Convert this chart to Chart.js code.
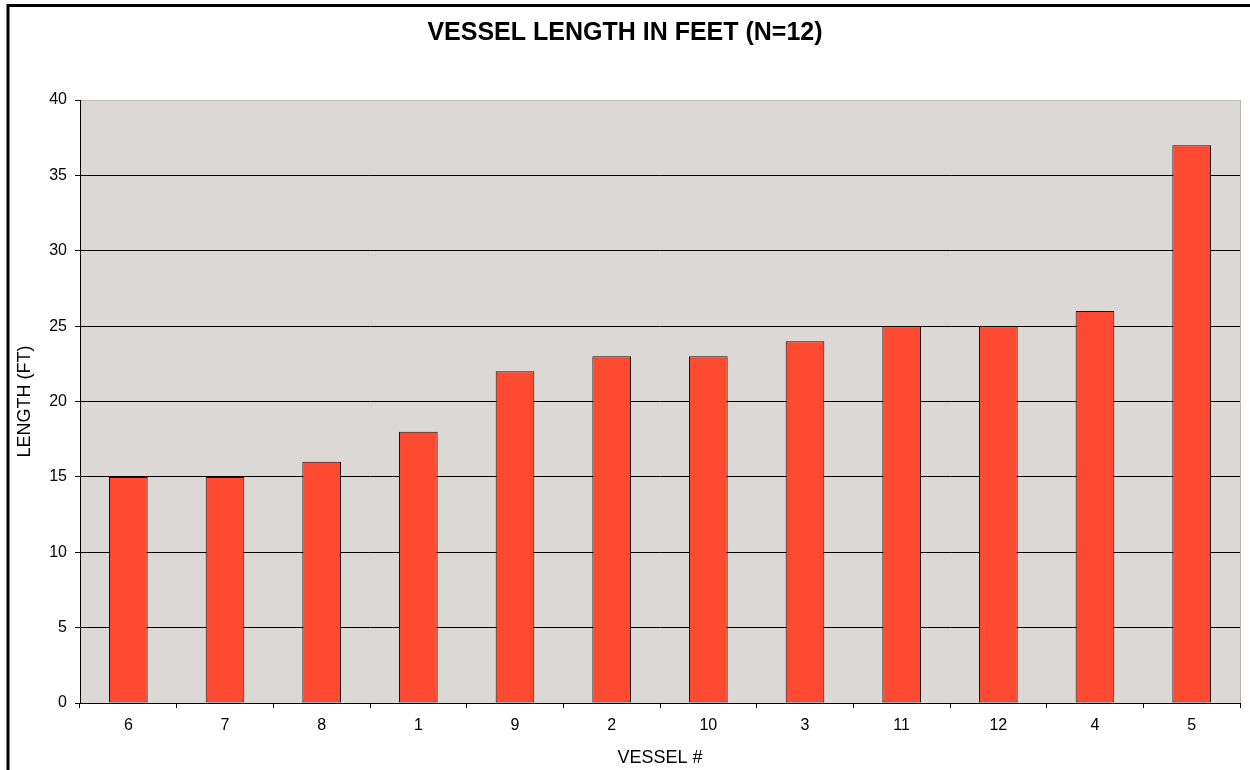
<!DOCTYPE html>
<html>
<head>
<meta charset="utf-8">
<script src="https://cdn.jsdelivr.net/npm/chart.js@4"></script>
<style>
  html, body { margin: 0; padding: 0; background: #fff; }
  #wrap { width: 1250px; height: 770px; }
</style>
</head>
<body>
<div id="wrap"><canvas id="myChart" width="1250" height="770"></canvas></div>
<script>
// vessel numbers in the order shown, and their lengths in feet
const vessels = ["6", "7", "8", "1", "9", "2", "10", "3", "11", "12", "4", "5"];
const lengths = [15, 15, 16, 18, 22, 23, 23, 24, 25, 25, 26, 37];
const yTicks = [0, 5, 10, 15, 20, 25, 30, 35, 40];

const fontFamily = "'Liberation Sans', Arial, sans-serif";

// grey plot background, light right edge, and the page frame
const framePlugin = {
    id: "frame",
    beforeDraw(chart) {
        const {ctx, chartArea: a} = chart;
        ctx.save();
        ctx.fillStyle = "#fff";
        ctx.fillRect(0, 0, chart.width, chart.height);
        ctx.fillStyle = "#dcd8d6";
        ctx.fillRect(a.left, a.top, a.right - a.left, a.bottom - a.top);
        ctx.restore();
    },
    afterDraw(chart) {
        const {ctx, chartArea: a} = chart;
        ctx.save();
        ctx.strokeStyle = "#b8b6b4";
        ctx.lineWidth = 1;
        ctx.beginPath();
        ctx.moveTo(a.right + 0.5, a.top);
        ctx.lineTo(a.right + 0.5, a.bottom);
        ctx.stroke();
        ctx.strokeStyle = "#000";
        ctx.lineWidth = 3;
        ctx.beginPath();
        ctx.moveTo(8, chart.height);
        ctx.lineTo(8, 5.5);
        ctx.lineTo(chart.width, 5.5);
        ctx.stroke();
        ctx.restore();
    }
};

new Chart(document.getElementById("myChart").getContext("2d"), {
    type: "bar",
    data: {
        labels: vessels,
        datasets: [{
            label: "Length (ft)",
            data: lengths,
            backgroundColor: "#ff4a32",
            borderColor: "#1a100c",
            borderWidth: 1,
            borderSkipped: false,
            categoryPercentage: 1,
            barPercentage: 0.4
        }]
    },
    options: {
        responsive: false,
        animation: false,
        layout: {padding: {left: 10, right: 10, top: 0, bottom: 0}},
        plugins: {
            legend: {display: false},
            tooltip: {enabled: false},
            title: {
                display: true,
                text: "VESSEL LENGTH IN FEET (N=12)",
                color: "#000",
                font: {family: fontFamily, size: 25, weight: "bold"},
                padding: {top: 18, bottom: 52}
            }
        },
        scales: {
            x: {
                grid: {
                    drawOnChartArea: false,
                    drawTicks: true,
                    tickLength: 5,
                    color: "#000"
                },
                border: {color: "#000", width: 1},
                ticks: {color: "#000", padding: 8, font: {family: fontFamily, size: 16}},
                title: {
                    display: true,
                    text: "VESSEL #",
                    color: "#000",
                    font: {family: fontFamily, size: 18},
                    padding: {top: 0, bottom: 1}
                },
                afterFit: s => { s.height = 67; }
            },
            y: {
                min: 0,
                max: 40,
                afterBuildTicks: s => { s.ticks = yTicks.map(v => ({value: v})); },
                grid: {
                    color: c => (c.tick && c.tick.value === 40) ? "#bcbab8" : "#000",
                    tickColor: "#000",
                    tickLength: 5,
                    lineWidth: 1
                },
                border: {color: "#000", width: 1},
                ticks: {color: "#000", padding: 8, font: {family: fontFamily, size: 16}},
                title: {
                    display: true,
                    text: "LENGTH (FT)",
                    color: "#000",
                    font: {family: fontFamily, size: 18},
                    padding: {top: 4, bottom: 0}
                },
                afterFit: s => { s.width = 70; }
            }
        }
    },
    plugins: [framePlugin]
});
</script>
</body>
</html>
